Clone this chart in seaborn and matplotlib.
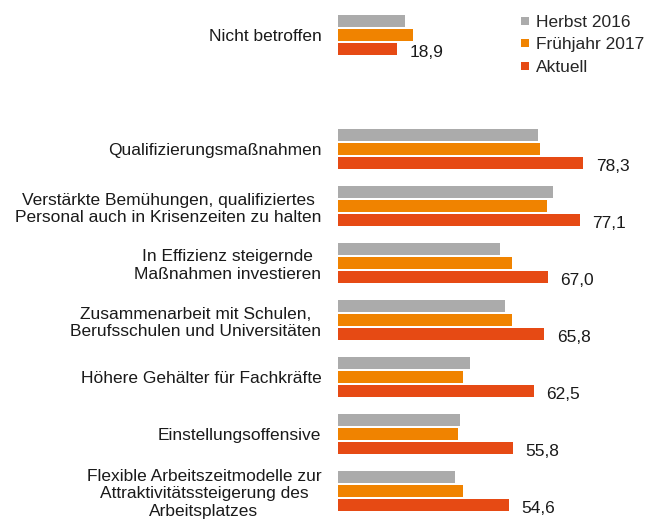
import matplotlib
matplotlib.use("Agg")
import matplotlib.pyplot as plt
import numpy as np
import pandas as pd
import seaborn as sns
from matplotlib.lines import Line2D

categories = [
    "Nicht betroffen",
    "",
    "Qualifizierungsmaßnahmen",
    "Verstärkte Bemühungen, qualifiziertes\nPersonal auch in Krisenzeiten zu halten",
    "In Effizienz steigernde\nMaßnahmen investieren",
    "Zusammenarbeit mit Schulen,\nBerufsschulen und Universitäten",
    "Höhere Gehälter für Fachkräfte",
    "Einstellungsoffensive",
    "Flexible Arbeitszeitmodelle zur\nAttraktivitätssteigerung des\nArbeitsplatzes",
]
series = ["Herbst 2016", "Frühjahr 2017", "Aktuell"]
herbst_2016 = [21.3, None, 63.9, 68.7, 51.7, 53.3, 42.1, 38.9, 37.3]
fruehjahr_2017 = [23.8, None, 64.4, 66.6, 55.4, 55.4, 40.0, 38.4, 40.0]
aktuell = [18.9, None, 78.3, 77.1, 67.0, 65.8, 62.5, 55.8, 54.6]
colors = ["#ABABAB", "#F08300", "#E64A14"]

rows = []
for cat, h, f, a in zip(categories, herbst_2016, fruehjahr_2017, aktuell):
    if h is None:
        continue
    rows.append((cat, series[0], h))
    rows.append((cat, series[1], f))
    rows.append((cat, series[2], a))
df = pd.DataFrame(rows, columns=["Kategorie", "Zeitpunkt", "Wert"])

sns.set_style("white")
plt.rcParams["font.family"] = ["Liberation Sans", "DejaVu Sans"]

fig = plt.figure(figsize=(6.49, 5.26), dpi=100)
ax = fig.add_axes([338 / 649, 0, 1 - 338 / 649, 1])

sns.barplot(
    data=df, y="Kategorie", x="Wert", hue="Zeitpunkt",
    order=categories, hue_order=series, palette=colors,
    orient="h", width=0.76, gap=0.17, linewidth=0, saturation=1,
    legend=False, ax=ax,
)

# value labels for the current survey
for i, v in enumerate(aktuell):
    if v is None:
        continue
    ax.annotate(f"{v:.1f}".replace(".", ","), xy=(v, i + 0.3),
                xytext=(9, 0), textcoords="offset points",
                ha="left", va="center", fontsize=12.5, color="#1a1a1a")

ax.set_xlim(0, (649 - 338) / 3.135)
ax.set_ylim((526 - 35) / 57, -35 / 57)
ax.set_xlabel("")
ax.set_ylabel("")
ax.set_xticks([])
ax.tick_params(axis="y", length=0, pad=12)
ax.set_yticklabels(categories, fontsize=12.5, color="#1a1a1a",
                   multialignment="center", linespacing=1.2)
for s in ax.spines.values():
    s.set_visible(False)

handles = [Line2D([], [], marker="s", linestyle="", markersize=6,
                  color=c, markeredgewidth=0) for c in colors]
fig.legend(handles, series, loc="upper left", bbox_to_anchor=(505 / 649, 1.0),
           frameon=False, fontsize=12.5, handlelength=0.6, handletextpad=0.35,
           labelspacing=0.42, borderaxespad=0.3, borderpad=0.55)

fig.savefig("out.png", dpi=100)
